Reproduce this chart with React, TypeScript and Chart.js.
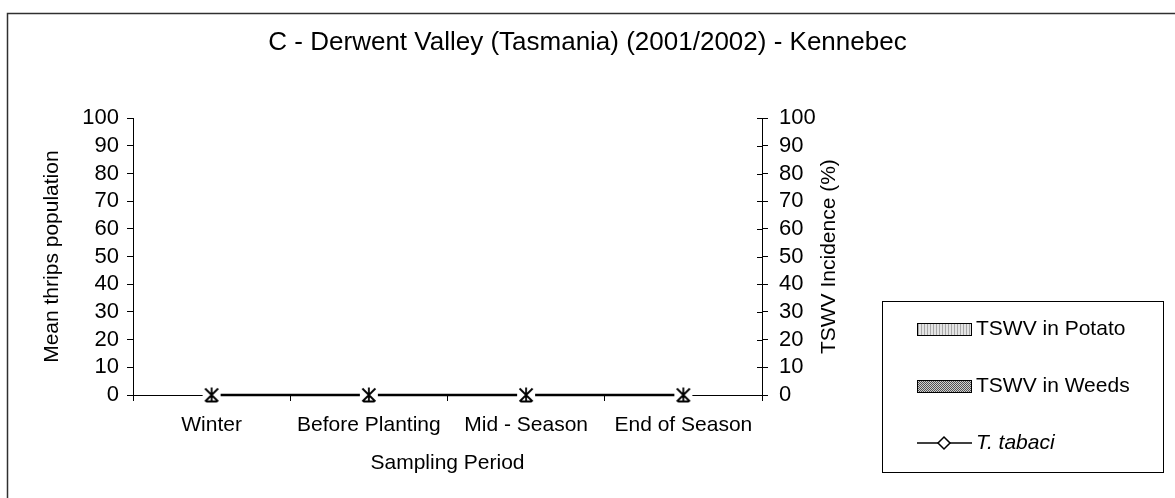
import React, { useEffect, useRef } from "react";
import { Chart, registerables } from "chart.js";

Chart.register(...registerables);

// ---------- data ----------
const categories = ["Winter", "Before Planting", "Mid - Season", "End of Season"];
const tswvPotato = [0, 0, 0, 0];
const tswvWeeds = [0, 0, 0, 0];
const tTabaci = [0, 0, 0, 0];
const seriesLabels = ["TSWV in Potato", "TSWV in Weeds", "T. tabaci"];
const chartTitle = "C - Derwent Valley (Tasmania) (2001/2002) - Kennebec";
const leftAxisTitle = "Mean thrips population";
const rightAxisTitle = "TSWV Incidence (%)";
const xAxisTitle = "Sampling Period";
const axisMin = 0;
const axisMax = 100;
const axisStep = 10;

const FONT = "'Liberation Sans', Arial, sans-serif";

function makePotatoPattern(): CanvasPattern | string {
  const c = document.createElement("canvas");
  c.width = 3;
  c.height = 3;
  const g = c.getContext("2d")!;
  g.fillStyle = "#e4e4e4";
  g.fillRect(0, 0, 3, 3);
  g.fillStyle = "#a8a8a8";
  g.fillRect(0, 0, 1, 3);
  return g.createPattern(c, "repeat") || "#cccccc";
}

function makeWeedsPattern(): CanvasPattern | string {
  const c = document.createElement("canvas");
  c.width = 2;
  c.height = 2;
  const g = c.getContext("2d")!;
  g.fillStyle = "#d0d0d0";
  g.fillRect(0, 0, 2, 2);
  g.fillStyle = "#505050";
  g.fillRect(0, 0, 1, 1);
  g.fillRect(1, 1, 1, 1);
  return g.createPattern(c, "repeat") || "#909090";
}

function makeStarMarker(): HTMLCanvasElement {
  const c = document.createElement("canvas");
  c.width = 20;
  c.height = 18;
  const g = c.getContext("2d")!;
  g.fillStyle = "#ffffff";
  g.fillRect(1, 2, 18, 14);
  g.strokeStyle = "#000000";
  g.lineWidth = 1.8;
  g.beginPath();
  g.moveTo(3.5, 2.5);
  g.lineTo(16.5, 15.5);
  g.moveTo(16.5, 2.5);
  g.lineTo(3.5, 15.5);
  g.moveTo(10, 1.5);
  g.lineTo(10, 16.5);
  g.moveTo(4.5, 15.5);
  g.lineTo(15.5, 15.5);
  g.stroke();
  return c;
}

const framePlugin = {
  id: "frame",
  beforeDraw(chart: any) {
    const { ctx, width, height } = chart;
    ctx.save();
    ctx.fillStyle = "#ffffff";
    ctx.fillRect(0, 0, width, height);
    ctx.strokeStyle = "#303030";
    ctx.lineWidth = 1.5;
    ctx.strokeRect(7.5, 13.5, width + 50, height + 50);
    ctx.restore();
  },
};

const extrasPlugin = {
  id: "extras",
  afterDraw(chart: any) {
    const { ctx, chartArea } = chart;
    ctx.save();
    // inward half of the right axis tick marks
    const r = chart.scales.y1;
    ctx.strokeStyle = "#000000";
    ctx.lineWidth = 1;
    r.ticks.forEach((_: any, i: number) => {
      const y = Math.round(r.getPixelForTick(i)) + 0.5;
      ctx.beginPath();
      ctx.moveTo(chartArea.right - 5, y);
      ctx.lineTo(chartArea.right, y);
      ctx.stroke();
    });

    // right axis title, reading bottom to top
    ctx.fillStyle = "#000000";
    ctx.font = `21px ${FONT}`;
    ctx.textAlign = "center";
    ctx.textBaseline = "middle";
    ctx.translate(829, (chartArea.top + chartArea.bottom) / 2);
    ctx.rotate(-Math.PI / 2);
    ctx.fillText(rightAxisTitle, 0, 0);
    ctx.restore();

    // legend
    ctx.save();
    ctx.strokeStyle = "#000000";
    ctx.lineWidth = 1;
    ctx.strokeRect(882.5, 301.5, 281, 171);
    const rows = [329, 386, 443];
    chart.data.datasets.forEach((d: any, i: number) => {
      const y = rows[i];
      if (d.type === "bar") {
        ctx.fillStyle = d.backgroundColor;
        ctx.fillRect(917, y - 6, 55, 13);
        ctx.strokeStyle = "#000000";
        ctx.lineWidth = 1;
        ctx.strokeRect(917.5, y - 5.5, 54, 12);
        ctx.font = `21px ${FONT}`;
      } else {
        ctx.strokeStyle = "#000000";
        ctx.lineWidth = 1.5;
        ctx.beginPath();
        ctx.moveTo(917, y);
        ctx.lineTo(972, y);
        ctx.stroke();
        ctx.fillStyle = "#ffffff";
        ctx.beginPath();
        ctx.moveTo(944, y - 6);
        ctx.lineTo(950, y);
        ctx.lineTo(944, y + 6);
        ctx.lineTo(938, y);
        ctx.closePath();
        ctx.fill();
        ctx.stroke();
        ctx.font = `italic 21px ${FONT}`;
      }
      ctx.fillStyle = "#000000";
      ctx.textAlign = "left";
      ctx.textBaseline = "middle";
      ctx.fillText(d.label, 976, y);
    });
    ctx.restore();
  },
};

export default function App() {
  const ref = useRef<HTMLCanvasElement | null>(null);

  useEffect(() => {
    if (!ref.current) return;
    document.body.style.margin = "0";
    Chart.defaults.font.family = FONT;
    Chart.defaults.color = "#000000";

    const chart = new Chart(ref.current, {
      type: "bar",
      data: {
        labels: categories,
        datasets: [
          {
            type: "bar",
            label: seriesLabels[0],
            data: tswvPotato,
            yAxisID: "y1",
            backgroundColor: makePotatoPattern() as any,
            borderColor: "#000000",
            borderWidth: 1,
          },
          {
            type: "bar",
            label: seriesLabels[1],
            data: tswvWeeds,
            yAxisID: "y1",
            backgroundColor: makeWeedsPattern() as any,
            borderColor: "#000000",
            borderWidth: 1,
          },
          {
            type: "line",
            label: seriesLabels[2],
            data: tTabaci,
            yAxisID: "y",
            borderColor: "#000000",
            borderWidth: 2.5,
            pointStyle: makeStarMarker() as any,
            pointRadius: 9,
            clip: false as any,
            order: -1,
          } as any,
        ],
      },
      options: {
        responsive: false,
        animation: false,
        events: [],
        layout: { padding: { left: 8, right: 8, top: 0, bottom: 0 } },
        plugins: {
          legend: { display: false },
          tooltip: { enabled: false },
          title: {
            display: true,
            text: chartTitle,
            color: "#000000",
            font: { size: 26, weight: "normal", family: FONT },
            padding: { top: 27, bottom: 60 },
          },
        },
        scales: {
          x: {
            type: "category",
            offset: true,
            afterFit: (s: any) => {
              s.height = 103;
            },
            grid: {
              offset: true,
              drawOnChartArea: false,
              drawTicks: true,
              tickLength: 6,
              color: "#000000",
            },
            border: { display: true, color: "#000000", width: 1 },
            ticks: { font: { size: 21 }, padding: 12, color: "#000000", maxRotation: 0, autoSkip: false },
            title: {
              display: true,
              text: xAxisTitle,
              font: { size: 21 },
              color: "#000000",
              padding: { top: 22, bottom: 22 },
            },
          },
          y: {
            position: "left",
            min: axisMin,
            max: axisMax,
            afterFit: (s: any) => {
              s.width = 125;
            },
            ticks: { stepSize: axisStep, font: { size: 22 }, padding: 8, color: "#000000", autoSkip: false },
            grid: {
              drawOnChartArea: false,
              drawTicks: true,
              tickLength: 6,
              color: "#000000",
            },
            border: { display: true, color: "#000000", width: 1 },
            title: {
              display: true,
              text: leftAxisTitle,
              font: { size: 21 },
              color: "#000000",
              padding: { top: 32, bottom: 0 },
            },
          },
          y1: {
            position: "right",
            min: axisMin,
            max: axisMax,
            afterFit: (s: any) => {
              s.width = 405;
            },
            ticks: { stepSize: axisStep, font: { size: 22 }, padding: 11, color: "#000000", autoSkip: false },
            grid: {
              drawOnChartArea: false,
              drawTicks: true,
              tickLength: 6,
              color: "#000000",
            },
            border: { display: true, color: "#000000", width: 1 },
          },
        },
      },
      plugins: [framePlugin, extrasPlugin],
    });

    return () => chart.destroy();
  }, []);

  return (
    <div style={{ position: "absolute", left: 0, top: 0, width: 1175, height: 498 }}>
      <canvas ref={ref} width={1175} height={498} style={{ width: 1175, height: 498, display: "block" }} />
    </div>
  );
}
